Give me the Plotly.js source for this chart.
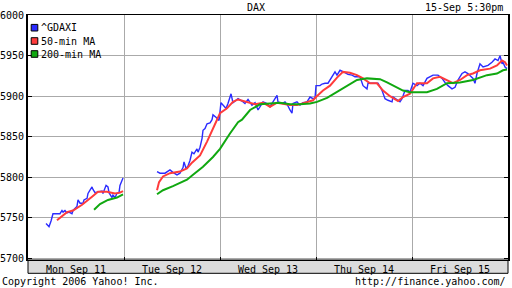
<!DOCTYPE html>
<html>
<head>
<meta charset="utf-8">
<script src="https://cdn.plot.ly/plotly-3.0.1.min.js"></script>
<style>html,body{margin:0;padding:0;background:#fff;}#chart{width:512px;height:288px;}</style>
</head>
<body>
<div id="chart"></div>
<script>
// ---- data (x = trading day index + fraction of day; Mon Sep 11 = 0) ----
var dayLabels = ["Mon Sep 11", "Tue Sep 12", "Wed Sep 13", "Thu Sep 14", "Fri Sep 15"];
var dayCenters = [0.5, 1.5, 2.5, 3.5, 4.5];
var dayBounds = [1, 2, 3, 4];
var priceTicks = [5700, 5750, 5800, 5850, 5900, 5950, 6000];
var seriesNames = ["^GDAXI", "50-min MA", "200-min MA"];

var daxT = [0.188,0.219,0.240,0.260,0.302,0.333,0.354,0.365,0.385,0.406,0.427,0.458,0.469,0.510,0.521,0.542,0.573,0.583,0.615,0.625,0.646,0.667,0.677,0.698,0.729,0.771,0.781,0.813,0.833,0.844,0.875,0.885,0.906,0.927,0.948,0.958,0.979,0.990,
 null,
 1.344,1.375,1.427,1.479,1.510,1.552,1.583,1.615,1.625,1.646,1.667,1.688,1.708,1.729,1.760,1.771,1.792,1.813,1.823,1.844,1.865,1.896,1.917,1.927,1.958,1.979,1.990,
 2.010,2.031,2.063,2.083,2.115,2.135,2.188,2.229,2.260,2.292,2.333,2.365,2.396,2.427,2.448,2.490,2.521,2.552,2.594,2.604,2.646,2.677,2.708,2.729,2.750,2.760,2.802,2.833,2.865,2.906,2.938,2.969,2.990,
 3.000,3.042,3.063,3.094,3.125,3.167,3.198,3.219,3.250,3.302,3.333,3.375,3.406,3.438,3.458,3.490,3.531,3.542,3.594,3.646,3.688,3.719,3.750,3.792,3.802,3.844,3.875,3.896,3.927,3.958,3.979,
 4.010,4.052,4.083,4.115,4.156,4.188,4.219,4.271,4.313,4.344,4.375,4.417,4.448,4.479,4.521,4.552,4.583,4.635,4.656,4.677,4.708,4.740,4.792,4.833,4.865,4.896,4.917,4.938,4.948,4.969,4.990];
var daxV = [5743,5739,5746,5755,5755,5755,5759,5757,5759,5756,5757,5755,5759,5764,5772,5768,5768,5772,5774,5780,5784,5788,5785,5781,5782,5783,5780,5790,5788,5781,5775,5778,5775,5780,5781,5790,5796,5799,
 null,
 5807,5805,5805,5809,5806,5803,5805,5812,5819,5811,5814,5821,5831,5829,5835,5831,5837,5848,5858,5860,5866,5867,5871,5877,5874,5871,5870,
 5892,5889,5885,5891,5903,5892,5897,5894,5891,5896,5889,5892,5883,5889,5893,5891,5887,5893,5901,5893,5891,5893,5888,5883,5879,5891,5893,5889,5892,5893,5899,5897,5898,
 5913,5913,5915,5916,5916,5924,5930,5926,5932,5929,5927,5926,5924,5924,5924,5913,5909,5916,5916,5916,5907,5897,5895,5893,5899,5895,5893,5897,5907,5907,5905,
 5916,5913,5916,5913,5922,5924,5926,5926,5922,5917,5913,5909,5911,5920,5928,5930,5928,5922,5916,5928,5940,5936,5938,5942,5946,5944,5950,5940,5942,5936,5934];

var ma50T = [0.302,0.406,0.469,0.563,0.667,0.729,0.823,0.906,0.958,0.990,
 null,
 1.344,1.365,1.406,1.479,1.583,1.656,1.708,1.792,1.865,1.927,2.000,2.073,2.135,2.188,2.281,2.365,2.448,2.521,2.594,2.656,2.729,2.802,2.865,2.969,3.000,3.073,3.146,3.219,3.281,3.354,3.427,3.490,3.563,3.635,3.698,3.771,3.854,3.906,3.979,4.052,4.156,4.219,4.292,4.365,4.427,4.500,4.573,4.635,4.708,4.813,4.885,4.938,4.969,4.990];
var ma50V = [5747,5757,5759,5766,5776,5782,5782,5780,5781,5783,
 null,
 5784,5794,5801,5805,5807,5811,5818,5827,5844,5860,5879,5885,5893,5896,5893,5890,5892,5887,5892,5891,5889,5889,5891,5895,5899,5907,5913,5923,5930,5929,5926,5922,5916,5916,5907,5900,5894,5899,5903,5916,5916,5922,5924,5920,5916,5920,5926,5928,5932,5934,5938,5944,5942,5938];

var ma200T = [0.688,0.750,0.833,0.927,0.990,
 null,
 1.344,1.406,1.510,1.656,1.719,1.823,1.927,2.000,2.104,2.188,2.229,2.313,2.417,2.521,2.625,2.729,2.833,2.938,3.010,3.115,3.219,3.323,3.427,3.531,3.667,3.740,3.844,3.906,3.979,4.156,4.260,4.365,4.500,4.635,4.781,4.885,4.948,4.990];
var ma200V = [5760,5767,5772,5775,5779,
 null,
 5779,5784,5789,5797,5803,5813,5825,5835,5854,5868,5871,5883,5890,5891,5892,5890,5890,5891,5893,5898,5905,5913,5920,5922,5921,5917,5911,5907,5905,5905,5909,5916,5917,5920,5926,5928,5932,5933];

var seriesColors = ["#2b2bff", "#ff3b3b", "#10a810"];

// ---- chart ----
var FONT = "DejaVu Sans Mono";
var traces = [
  {x: daxT, y: daxV, name: seriesNames[0], mode: "lines", line: {color: seriesColors[0], width: 1.4}},
  {x: ma50T, y: ma50V, name: seriesNames[1], mode: "lines", line: {color: seriesColors[1], width: 2}},
  {x: ma200T, y: ma200V, name: seriesNames[2], mode: "lines", line: {color: seriesColors[2], width: 2}}
];

var PH = 245; // plot height in px
function py(px) { return (260 - px) / PH; }

var shapes = [
  {type: "rect", xref: "paper", yref: "paper", x0: 0, x1: 1, y0: -13.3 / PH, y1: 0,
   fillcolor: "#dcdcdc", line: {color: "#000", width: 1}, layer: "below"}
];
var annotations = [
  {xref: "paper", yref: "paper", x: (505 - 28) / 480, y: py(7), xanchor: "right", yanchor: "middle",
   text: "15-Sep 5:30pm", showarrow: false, font: {family: FONT, size: 10, color: "#000"}},
  {xref: "paper", yref: "paper", x: -28 / 480, y: py(281), xanchor: "left", yanchor: "middle",
   text: "Copyright 2006 Yahoo! Inc.", showarrow: false, font: {family: FONT, size: 10, color: "#000"}},
  {xref: "paper", yref: "paper", x: 1, y: py(281), xanchor: "right", yanchor: "middle",
   text: "http://finance.yahoo.com/", showarrow: false, font: {family: FONT, size: 10, color: "#000"}}
];
// custom legend (squares + names)
var legendY = [27.7, 41, 54];
for (var i = 0; i < seriesNames.length; i++) {
  shapes.push({type: "rect", xref: "paper", yref: "paper",
    x0: 3.2 / 480, x1: 9.8 / 480, y0: py(legendY[i] + 3.3), y1: py(legendY[i] - 3.3),
    fillcolor: seriesColors[i], line: {color: "#000", width: 1}});
  annotations.push({xref: "paper", yref: "paper", x: 11 / 480, y: py(legendY[i]),
    xanchor: "left", yanchor: "middle", text: seriesNames[i], showarrow: false,
    font: {family: FONT, size: 10, color: "#000"}});
}

var layout = {
  width: 512, height: 288,
  margin: {l: 28, r: 4, t: 15, b: 28, pad: 0},
  paper_bgcolor: "#fff", plot_bgcolor: "#fff",
  showlegend: false,
  font: {family: FONT, size: 10, color: "#000"},
  title: {text: "DAX", x: 0.5, xref: "container", y: 1 - 7.5 / 288, yref: "container",
          xanchor: "center", yanchor: "middle", font: {family: FONT, size: 10, color: "#000"}},
  xaxis: {
    range: [0, 5], fixedrange: true,
    tickmode: "array", tickvals: dayCenters, ticktext: dayLabels,
    ticks: "", showgrid: false, zeroline: false,
    showline: true, linecolor: "#000", linewidth: 1, mirror: true,
    tickfont: {family: FONT, size: 10, color: "#000"},
    minor: {tickmode: "array", tickvals: dayBounds, showgrid: true, gridcolor: "#aaaaaa", gridwidth: 1,
            ticks: "inside", ticklen: 3, tickcolor: "#000", tickwidth: 1}
  },
  yaxis: {
    range: [5697.9, 6000.2], fixedrange: true,
    tickmode: "array", tickvals: priceTicks, ticktext: priceTicks.map(String),
    ticks: "inside", ticklen: 4, tickcolor: "#000", tickwidth: 1,
    showgrid: true, gridcolor: "#aaaaaa", gridwidth: 1, zeroline: false,
    showline: true, linecolor: "#000", linewidth: 2, mirror: "ticks",
    tickfont: {family: FONT, size: 10, color: "#000"}
  },
  shapes: shapes,
  annotations: annotations
};

Plotly.newPlot("chart", traces, layout, {staticPlot: true, displayModeBar: false});
</script>
</body>
</html>
